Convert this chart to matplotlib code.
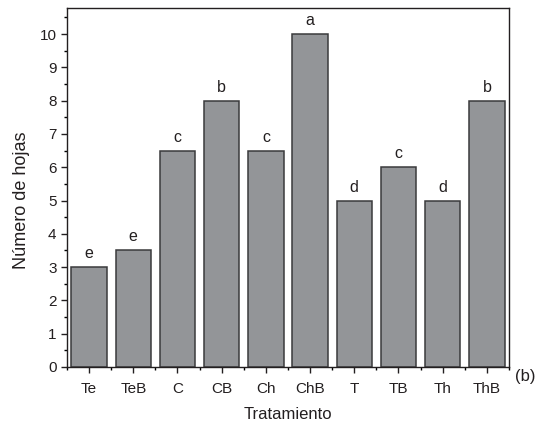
import matplotlib
matplotlib.use("Agg")
import matplotlib.pyplot as plt
from matplotlib.ticker import MultipleLocator, FixedLocator

plt.rcParams['font.family'] = ['Liberation Sans', 'DejaVu Sans']

categories = ["Te", "TeB", "C", "CB", "Ch", "ChB", "T", "TB", "Th", "ThB"]
values = [3, 3.5, 6.5, 8, 6.5, 10, 5, 6, 5, 8]
letters = ["e", "e", "c", "b", "c", "a", "d", "c", "d", "b"]

fig = plt.figure(figsize=(5.36, 4.23), dpi=100)
ax = fig.add_axes([0.125, 0.1324, 0.8246, 0.8486])
x = list(range(len(categories)))
ax.bar(x, values, width=0.8, color="#939598", edgecolor="#3a3a3c", linewidth=1.1)
for xi, v, l in zip(x, values, letters):
    ax.text(xi, v + 0.18, l, ha="center", va="bottom", fontsize=11.5, color="#231f20")

ax.set_xlim(-0.5, 9.5)
ax.set_ylim(0, 10.78)
ax.set_xticks(x)
ax.set_xticklabels(categories)
ax.xaxis.set_minor_locator(FixedLocator([i - 0.5 for i in range(11)]))
ax.yaxis.set_major_locator(MultipleLocator(1))
ax.yaxis.set_minor_locator(MultipleLocator(0.5))
ax.tick_params(axis="both", which="major", direction="out", length=4.5, width=1, labelsize=11, colors="#231f20", top=False, right=False)
ax.tick_params(axis="both", which="minor", direction="out", length=2.5, width=1, top=False, right=False)
ax.tick_params(axis="x", which="major", pad=6)
ax.tick_params(axis="y", which="major", pad=3)
for s in ax.spines.values():
    s.set_color("#231f20")
    s.set_linewidth(1.0)
ax.set_ylabel("Número de hojas", fontsize=13, color="#231f20", labelpad=7)
ax.yaxis.label.set_y(0.465)
ax.set_xlabel("Tratamiento", fontsize=12, color="#231f20", labelpad=8)
fig.text(0.960, 0.111, "(b)", fontsize=12, ha="left", va="center", color="#231f20")
fig.savefig("out.png", dpi=100)
